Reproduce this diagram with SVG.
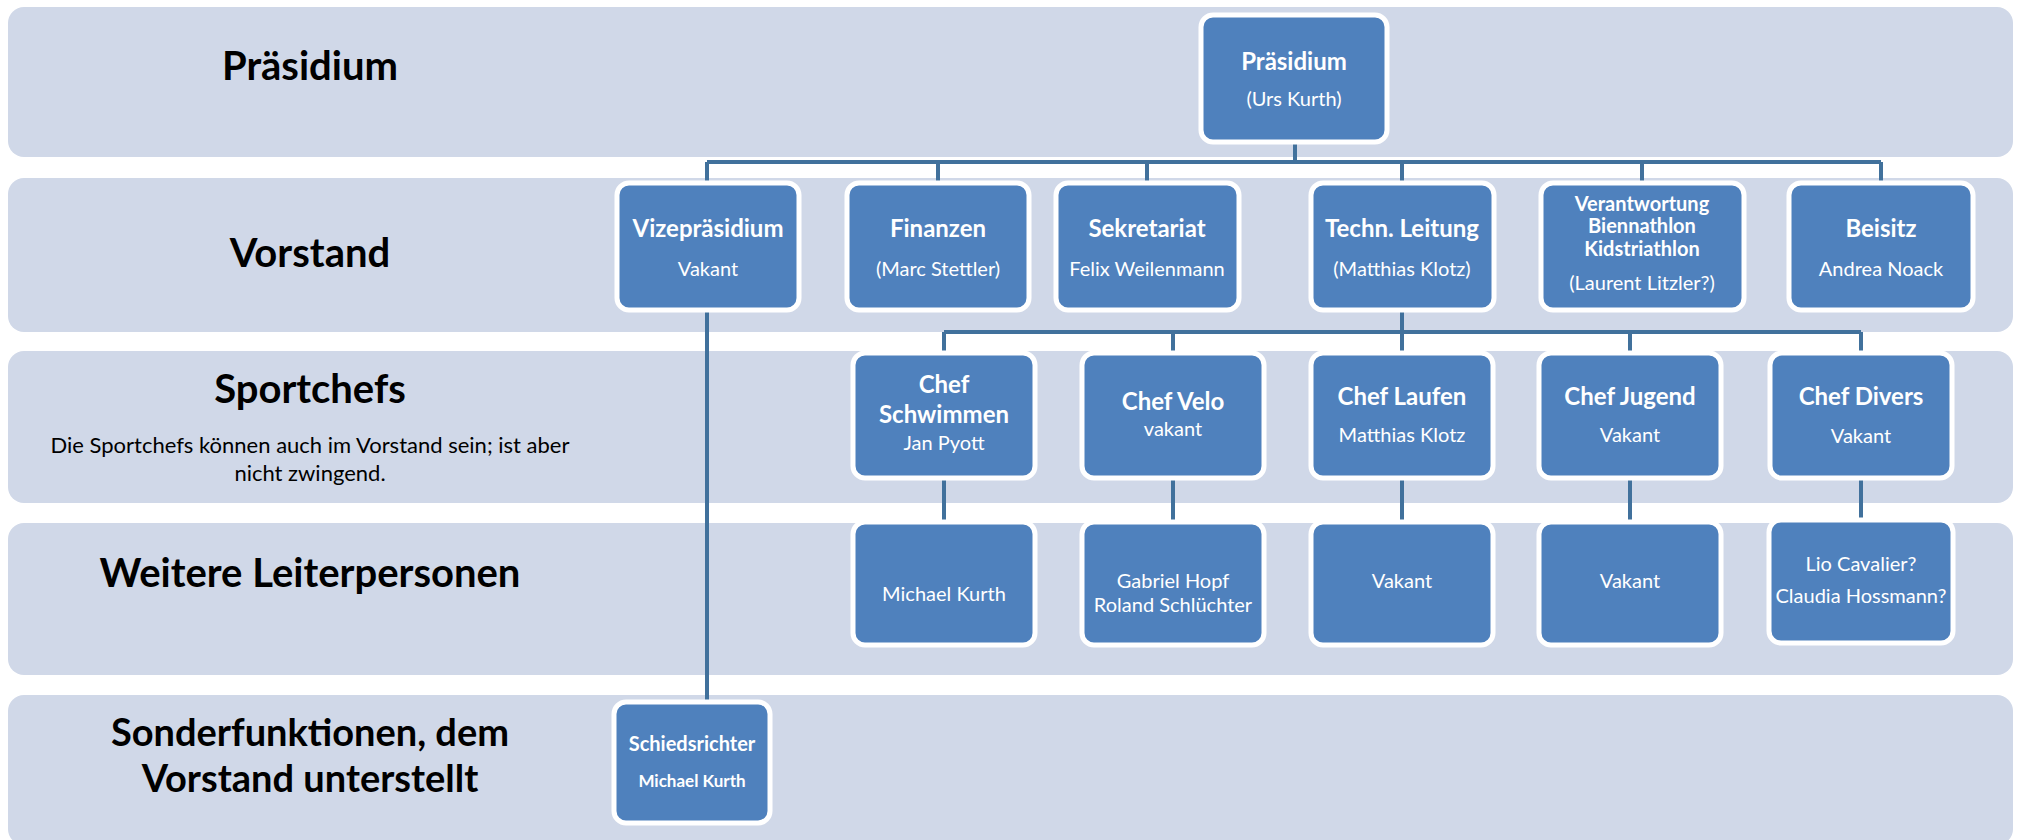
<svg xmlns="http://www.w3.org/2000/svg" width="2020" height="840" viewBox="0 0 2020 840">
<style>
.band{fill:#D0D8E8}
.box{fill:#4F81BD;stroke:#FFFFFF;stroke-width:5}
.conn{stroke:#41719C;stroke-width:4;fill:none}
.lbl{font-family:Lato,"Open Sans",sans-serif;font-weight:bold;font-size:40px;fill:#000;text-anchor:middle}
.lbl2{font-family:Lato,"Open Sans",sans-serif;font-weight:bold;font-size:38px;fill:#000;text-anchor:middle}
.note{font-family:Lato,"Open Sans",sans-serif;font-size:22px;fill:#000;text-anchor:middle}
.t{font-family:Lato,"Open Sans",sans-serif;font-weight:bold;font-size:24px;fill:#FFF;text-anchor:middle}
.tb{font-family:Lato,"Open Sans",sans-serif;font-weight:bold;font-size:20px;fill:#FFF;text-anchor:middle}
.s{font-family:Lato,"Open Sans",sans-serif;font-size:20px;fill:#FFF;text-anchor:middle}
.sr{font-family:Lato,"Open Sans",sans-serif;font-weight:bold;font-size:20px;fill:#FFF;text-anchor:middle}
.sr2{font-family:Lato,"Open Sans",sans-serif;font-weight:bold;font-size:17px;fill:#FFF;text-anchor:middle}
</style>
<rect width="2020" height="840" fill="#FFFFFF"/>
<g id="bands">
<rect class="band" x="8" y="7" width="2005" height="150" rx="16"/>
<rect class="band" x="8" y="178" width="2005" height="154" rx="16"/>
<rect class="band" x="8" y="351" width="2005" height="152" rx="16"/>
<rect class="band" x="8" y="523" width="2005" height="152" rx="16"/>
<rect class="band" x="8" y="695" width="2005" height="150" rx="16"/>
<text class="lbl" x="310" y="80">Präsidium</text>
<text class="lbl" x="310" y="267">Vorstand</text>
<text class="lbl" x="310" y="403">Sportchefs</text>
<text class="note" x="310" y="453">Die Sportchefs können auch im  Vorstand sein; ist aber</text>
<text class="note" x="310" y="481">nicht zwingend.</text>
<text class="lbl" x="310" y="587">Weitere Leiterpersonen</text>
<text class="lbl2" x="310" y="746">Sonderfunktionen, dem</text>
<text class="lbl2" x="310" y="792">Vorstand unterstellt</text>
</g>
<g id="connectors">
<path class="conn" d="M1295 142V162M707 162H1881M707 162V183M938 162V183M1147 162V183M1402 162V183M1642 162V183M1881 162V183"/>
<path class="conn" d="M1402 310V332M944 332H1861M944 332V353M1173 332V353M1402 332V353M1630 332V353M1861 332V353"/>
<path class="conn" d="M944 478V522M1173 478V522M1402 478V522M1630 478V522M1861 478V522"/>
<path class="conn" d="M707 310V702"/>
</g>
<g id="n-praesidium"><rect class="box" x="1201" y="15" width="186" height="127" rx="12"/><text class="t" x="1294" y="70">Präsidium</text><text class="s" x="1294" y="106">(Urs Kurth)</text></g>
<g id="n-vize"><rect class="box" x="617" y="183" width="182" height="127" rx="12"/><text class="t" x="708" y="237">Vizepräsidium</text><text class="s" x="708" y="276">Vakant</text></g>
<g id="n-finanzen"><rect class="box" x="847" y="183" width="182" height="127" rx="12"/><text class="t" x="938" y="237">Finanzen</text><text class="s" x="938" y="276">(Marc Stettler)</text></g>
<g id="n-sekretariat"><rect class="box" x="1056" y="183" width="183" height="127" rx="12"/><text class="t" x="1147" y="237">Sekretariat</text><text class="s" x="1147" y="276">Felix Weilenmann</text></g>
<g id="n-techn"><rect class="box" x="1311" y="183" width="183" height="127" rx="12"/><text class="t" x="1402" y="237">Techn. Leitung</text><text class="s" x="1402" y="276">(Matthias Klotz)</text></g>
<g id="n-verantwortung"><rect class="box" x="1541" y="183" width="203" height="127" rx="12"/><text class="tb" x="1642" y="211">Verantwortung</text><text class="tb" x="1642" y="233">Biennathlon</text><text class="tb" x="1642" y="256">Kidstriathlon</text><text class="s" x="1642" y="290">(Laurent Litzler?)</text></g>
<g id="n-beisitz"><rect class="box" x="1789" y="183" width="184" height="127" rx="12"/><text class="t" x="1881" y="237">Beisitz</text><text class="s" x="1881" y="276">Andrea Noack</text></g>
<g id="n-schwimmen"><rect class="box" x="853" y="353" width="182" height="125" rx="12"/><text class="t" x="944" y="393">Chef</text><text class="t" x="944" y="423">Schwimmen</text><text class="s" x="944" y="450">Jan Pyott</text></g>
<g id="n-velo"><rect class="box" x="1082" y="353" width="182" height="125" rx="12"/><text class="t" x="1173" y="410">Chef Velo</text><text class="s" x="1173" y="436">vakant</text></g>
<g id="n-laufen"><rect class="box" x="1311" y="353" width="182" height="125" rx="12"/><text class="t" x="1402" y="405">Chef Laufen</text><text class="s" x="1402" y="442">Matthias Klotz</text></g>
<g id="n-jugend"><rect class="box" x="1539" y="353" width="182" height="125" rx="12"/><text class="t" x="1630" y="405">Chef Jugend</text><text class="s" x="1630" y="442">Vakant</text></g>
<g id="n-divers"><rect class="box" x="1770" y="353" width="182" height="125" rx="12"/><text class="t" x="1861" y="405">Chef Divers</text><text class="s" x="1861" y="443">Vakant</text></g>
<g id="n-w-schwimmen"><rect class="box" x="853" y="522" width="182" height="123" rx="12"/><text class="s" x="944" y="601">Michael Kurth</text></g>
<g id="n-w-velo"><rect class="box" x="1082" y="522" width="182" height="123" rx="12"/><text class="s" x="1173" y="588">Gabriel Hopf</text><text class="s" x="1173" y="612">Roland Schlüchter</text></g>
<g id="n-w-laufen"><rect class="box" x="1311" y="522" width="182" height="123" rx="12"/><text class="s" x="1402" y="588">Vakant</text></g>
<g id="n-w-jugend"><rect class="box" x="1539" y="522" width="182" height="123" rx="12"/><text class="s" x="1630" y="588">Vakant</text></g>
<g id="n-w-divers"><rect class="box" x="1769" y="520" width="184" height="123" rx="12"/><text class="s" x="1861" y="571">Lio Cavalier?</text><text class="s" x="1861" y="603">Claudia Hossmann?</text></g>
<g id="n-schiedsrichter"><rect class="box" x="614" y="702" width="156" height="121" rx="12"/><text class="sr" x="692" y="751">Schiedsrichter</text><text class="sr2" x="692" y="787">Michael Kurth</text></g>
</svg>
